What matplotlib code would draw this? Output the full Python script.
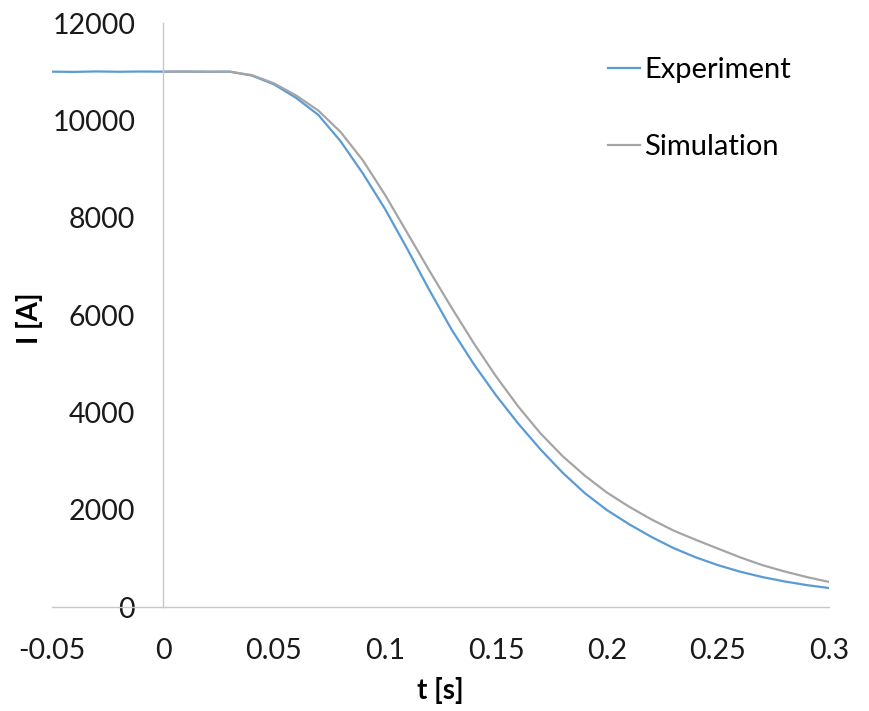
import numpy as np
import matplotlib.pyplot as plt

plt.rcParams["font.family"] = ["Lato", "DejaVu Sans"]

# measured current during the ramp-down
t_exp = [-0.05, -0.04, -0.03, -0.02, -0.01, 0.0, 0.01, 0.02, 0.03, 0.04,
         0.05, 0.06, 0.07, 0.08, 0.09, 0.10, 0.11, 0.12, 0.13, 0.14,
         0.15, 0.16, 0.17, 0.18, 0.19, 0.20, 0.21, 0.22, 0.23, 0.24,
         0.25, 0.26, 0.27, 0.28, 0.29, 0.30]
i_exp = [11000, 10995, 11005, 10998, 11003, 11000, 11003, 10997, 11000, 10920,
         10740, 10460, 10110, 9570, 8910, 8180, 7360, 6510, 5700, 4990,
         4350, 3770, 3240, 2760, 2340, 1990, 1700, 1440, 1210, 1020,
         860, 725, 615, 525, 450, 390]

# model result
t_sim = [0.0, 0.01, 0.02, 0.03, 0.04, 0.05, 0.06, 0.07, 0.08, 0.09,
         0.10, 0.11, 0.12, 0.13, 0.14, 0.15, 0.16, 0.17, 0.18, 0.19,
         0.20, 0.21, 0.22, 0.23, 0.24, 0.25, 0.26, 0.27, 0.28, 0.29, 0.30]
i_sim = [11000, 11000, 11000, 11000, 10930, 10760, 10510, 10200, 9760, 9180,
         8470, 7690, 6910, 6150, 5420, 4740, 4120, 3570, 3100, 2700,
         2350, 2060, 1800, 1570, 1380, 1200, 1020, 860, 730, 615, 515]

fig = plt.figure(figsize=(8.69, 7.11), dpi=100)
ax = fig.add_axes([52 / 869, 1 - 607 / 711, (829 - 52) / 869, (607 - 23) / 711])

ax.plot(t_exp, i_exp, color="#5B9BD5", lw=1.6, label="Experiment")
ax.plot(t_sim, i_sim, color="#A5A5A5", lw=1.6, label="Simulation")

ax.set_xlim(-0.05, 0.3)
ax.set_ylim(0, 12000)
ax.set_xticks(np.arange(-0.05, 0.31, 0.05))
ax.set_xticklabels(["-0.05", "0", "0.05", "0.1", "0.15", "0.2", "0.25", "0.3"])
ax.set_yticks(range(0, 12001, 2000))

for s in ["top", "right"]:
    ax.spines[s].set_visible(False)
ax.spines["left"].set_position(("data", 0))
ax.spines["left"].set_color("#C8C8C8")
ax.spines["bottom"].set_color("#C8C8C8")
ax.spines["left"].set_linewidth(1.0)
ax.spines["bottom"].set_linewidth(1.0)

ax.tick_params(axis="both", length=0, labelsize=20.5, colors="#1a1a1a")
ax.tick_params(axis="y", pad=20)
ax.tick_params(axis="x", pad=22)

fig.text(440 / 869, 1 - 690 / 711, "t [s]", fontsize=20, fontweight="bold",
         ha="center", va="center")
fig.text(30 / 869, 1 - 318 / 711, "I [A]", fontsize=20, fontweight="bold",
         ha="center", va="center", rotation=90)

ax.legend(loc="upper left", bbox_to_anchor=(608 / 869, 1 - 57 / 711),
          bbox_transform=fig.transFigure, frameon=False, fontsize=21,
          handlelength=1.1, handletextpad=0.15, labelspacing=1.75,
          borderpad=0, borderaxespad=0)

fig.savefig("out.png", dpi=100)
